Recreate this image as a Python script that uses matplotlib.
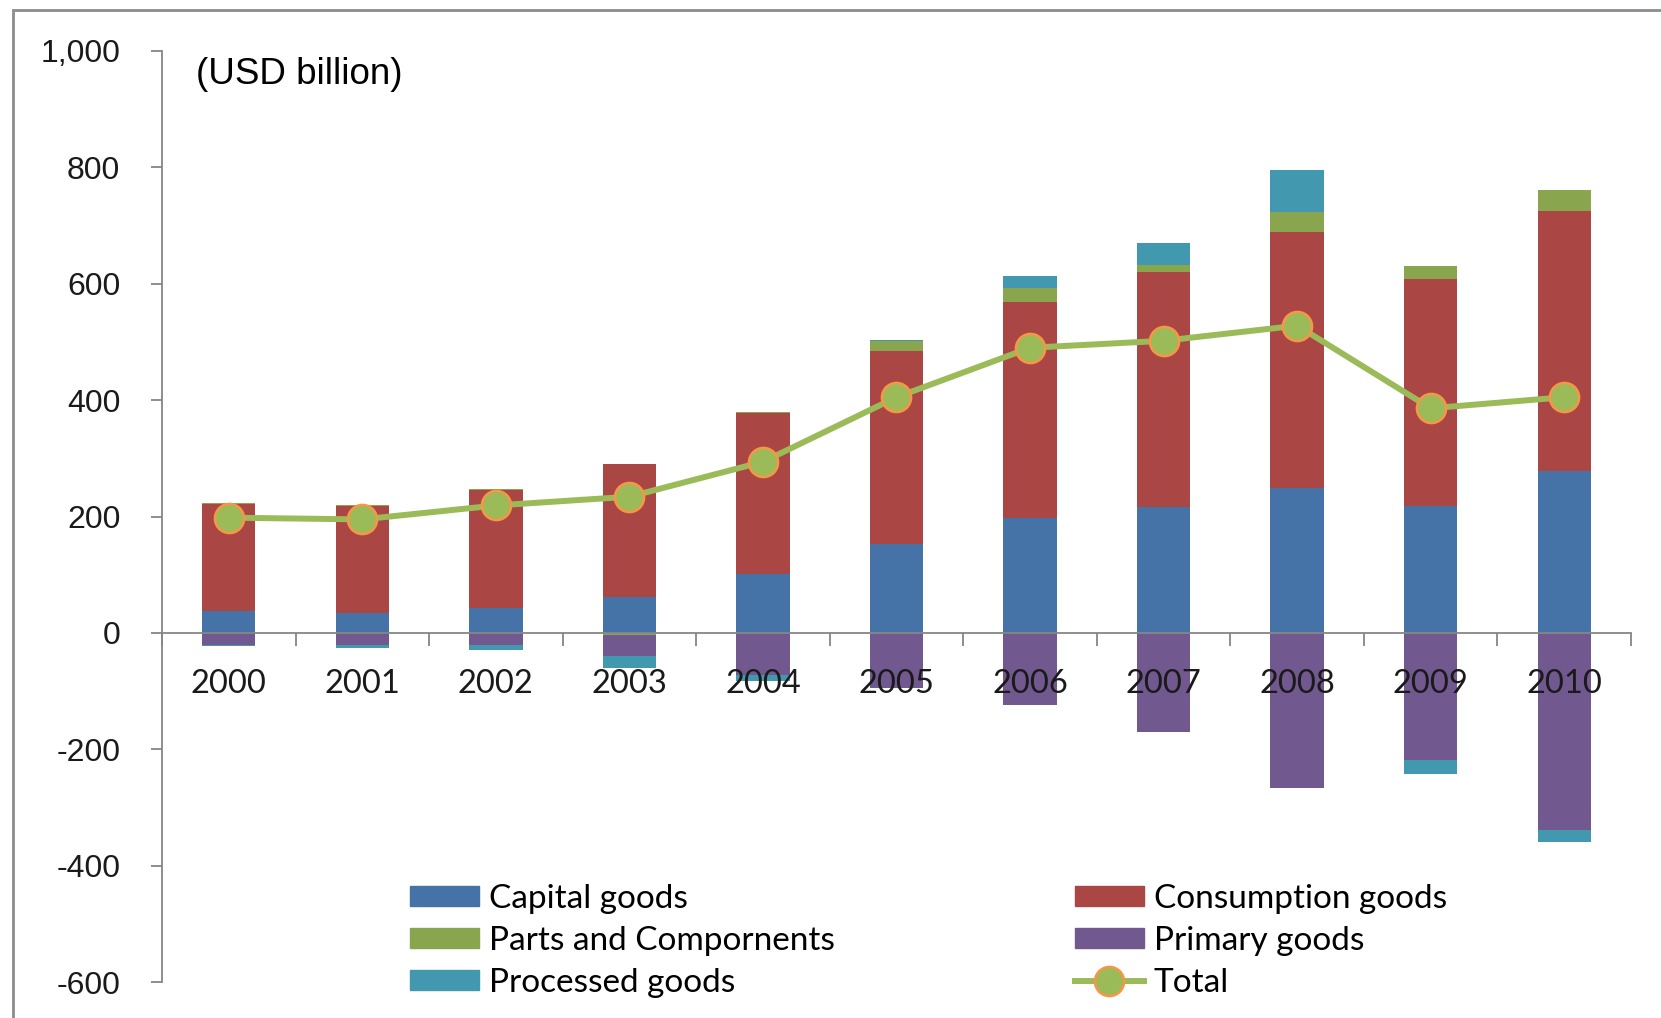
import numpy as np
import matplotlib
matplotlib.use("Agg")
import matplotlib.pyplot as plt
from matplotlib.patches import Rectangle, Patch
from matplotlib.lines import Line2D
from matplotlib.ticker import FuncFormatter

# data (USD billion)
years = ['2000', '2001', '2002', '2003', '2004', '2005', '2006', '2007', '2008', '2009', '2010']
capital = [37, 34, 43, 62, 101, 153, 197, 217, 249, 218, 279]
consumption = [185, 184, 203, 228, 277, 332, 372, 403, 440, 391, 446]
parts = [2, 2, 2, -3, 1, 17, 23, 12, 35, 21, 36]
primary = [-21, -20, -21, -36, -73, -94, -124, -171, -267, -219, -338]
processed = [-2, -6, -9, -21, -9, 2, 22, 38, 71, -24, -22]
total = [198, 195, 219, 234, 294, 405, 490, 502, 528, 386, 405]

series = [
    ('Capital goods', capital, '#4572A7'),
    ('Consumption goods', consumption, '#AA4643'),
    ('Parts and Compornents', parts, '#89A54E'),
    ('Primary goods', primary, '#71588F'),
    ('Processed goods', processed, '#4198AF'),
]

fig = plt.figure(figsize=(16.61, 10.18), dpi=100)
ax = fig.add_axes([162 / 1661, 1 - 982 / 1018, (1631 - 162) / 1661, (982 - 51) / 1018])

x = np.arange(len(years))
pos_base = np.zeros(len(years))
neg_base = np.zeros(len(years))
for name, vals, col in series:
    v = np.array(vals, dtype=float)
    bottom = np.where(v >= 0, pos_base, neg_base)
    ax.bar(x, v, 0.40, bottom=bottom, color=col, zorder=1)
    pos_base = pos_base + np.where(v >= 0, v, 0)
    neg_base = neg_base + np.where(v < 0, v, 0)

ax.plot(x, total, color='#9BBB59', lw=4.3, marker='o', ms=21,
        mfc='#9BBB59', mec='#F79646', mew=1.8, zorder=3)

ax.set_xlim(-0.5, len(years) - 0.5)
ax.set_ylim(-600, 1000)
ax.set_yticks(np.arange(-600, 1001, 200))
ax.yaxis.set_major_formatter(FuncFormatter(lambda v, p: f'{int(v):,}'))

grey = '#868686'
for s in ['top', 'right']:
    ax.spines[s].set_visible(False)
ax.spines['bottom'].set_position(('data', 0))
ax.spines['bottom'].set_color(grey)
ax.spines['left'].set_color(grey)
ax.spines['bottom'].set_linewidth(1.3)
ax.spines['left'].set_linewidth(1.3)

ax.tick_params(axis='y', direction='out', length=8, width=1.3, color=grey,
               pad=22, labelsize=23, labelcolor='#1a1a1a')
for lab in ax.get_yticklabels():
    lab.set_family('Liberation Sans')

ax.set_xticks(x)
ax.set_xticklabels(years, family='Lato', fontsize=23.5, color='#1a1a1a')
ax.tick_params(axis='x', which='major', length=0, pad=26)
ax.set_xticks(np.arange(-0.5, len(years), 1), minor=True)
ax.tick_params(axis='x', which='minor', direction='out', length=9, width=1.3, color=grey)

ax.text(196, 1018 - 75, '(USD billion)', transform=None, fontsize=26.5,
        family='Liberation Sans', va='center', ha='left')

# legend (column-wise fill)
cols = dict((n, c) for n, _, c in series)
handles = [
    Patch(color=cols['Capital goods']),
    Patch(color=cols['Parts and Compornents']),
    Patch(color=cols['Processed goods']),
    Patch(color=cols['Consumption goods']),
    Patch(color=cols['Primary goods']),
    Line2D([], [], color='#9BBB59', lw=4.3, marker='o', ms=21, mfc='#9BBB59', mec='#F79646', mew=1.8),
]
labels = ['Capital goods', 'Parts and Compornents', 'Processed goods',
          'Consumption goods', 'Primary goods', 'Total']
fig.legend(handles, labels, ncol=2, loc='upper left',
           bbox_to_anchor=(410 / 1661, 1 - 884 / 1018), frameon=False,
           borderaxespad=0, borderpad=0,
           prop={'family': 'Lato', 'size': 24}, handlelength=2.07, handleheight=0.57,
           handletextpad=0.3, columnspacing=7.19, labelspacing=0.36)

# outer chart frame
fig.add_artist(Rectangle((13 / 1661, -0.1), 1.2, 1.1 - 10 / 1018,
                         transform=fig.transFigure, fill=False, ec='#8c8c8c', lw=2))

fig.savefig('out.png', dpi=100)
